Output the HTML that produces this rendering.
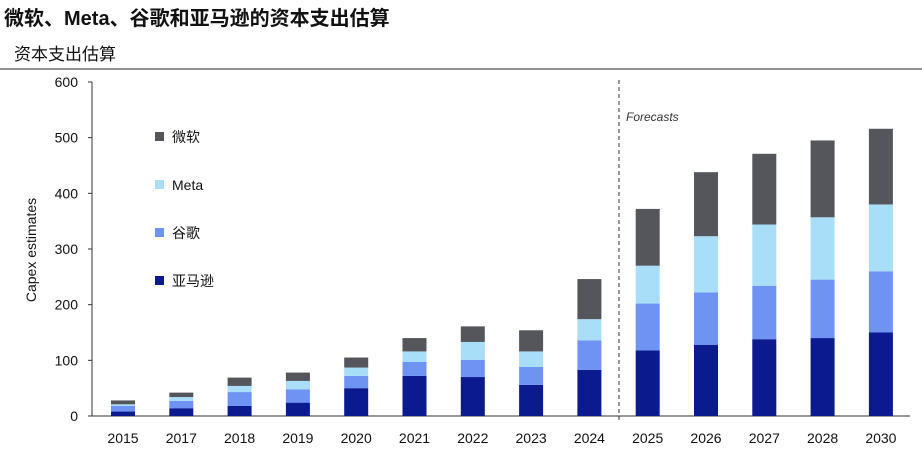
<!DOCTYPE html>
<html><head><meta charset="utf-8"><style>
body{margin:0;background:#fff;width:922px;height:462px;overflow:hidden;font-family:"Liberation Sans","Noto Sans CJK SC",sans-serif}
</style></head><body>
<svg id="c" width="922" height="462" xmlns="http://www.w3.org/2000/svg">
<text x="4" y="25" font-size="20" font-weight="bold" fill="#111" font-family="Liberation Sans, Noto Sans CJK SC, sans-serif">微软、Meta、谷歌和亚马逊的资本支出估算</text>
<text x="14" y="60" font-size="17" fill="#111" font-family="Liberation Sans, Noto Sans CJK SC, sans-serif">资本支出估算</text>
<line x1="0" y1="69" x2="922" y2="69" stroke="#222" stroke-width="1"/>
<text transform="translate(36,250) rotate(-90)" text-anchor="middle" font-size="14" fill="#111">Capex estimates</text>
<g id="axes"></g><g id="bars"></g>
<line x1="619" y1="80" x2="619" y2="420" stroke="#333" stroke-dasharray="4,3"/>
<text x="626" y="121" font-size="12" font-style="italic" fill="#333">Forecasts</text>
<g id="legend"></g>
</svg>
<script>
const categories=["2015","2017","2018","2019","2020","2021","2022","2023","2024","2025","2026","2027","2028","2030"];
const amazon=[8,14,18,24,50,72,70,56,83,118,128,138,140,150];
const google=[10,13,25,24,22,25,31,32,53,84,94,96,105,110];
const meta=[3,7,11,15,15,19,32,28,38,68,101,110,112,120];
const microsoft=[7,8,15,15,18,24,28,38,72,102,115,127,138,136];
const yTicks=[0,100,200,300,400,500,600];
const seriesNames=["微软","Meta","谷歌","亚马逊"];
const NS="http://www.w3.org/2000/svg";
const y0=416,ppu=(416-82)/600;
const y=v=>y0-v*ppu;
const x=i=>123+i*58.3;
const colors={amazon:"#0b1a8e",google:"#6e93f2",meta:"#a9def9",microsoft:"#55565c"};
function mk(t,a,p){const e=document.createElementNS(NS,t);for(const k in a)e.setAttribute(k,a[k]);p.appendChild(e);return e;}
const ax=document.getElementById('axes');
let bl=mk('line',{x1:92,y1:y0,x2:910,y2:y0,stroke:'#333'},ax);


let vl=mk('line',{x1:92,y1:y(600),x2:92,y2:y0,stroke:'#333'},ax);


yTicks.forEach(t=>{const e=mk('text',{x:78,y:y(t)+5,'text-anchor':'end','font-size':14,fill:'#111'},ax);e.textContent=t;


const tk=mk('line',{x1:88,y1:y(t),x2:92,y2:y(t),stroke:'#333'},ax);

});
categories.forEach((c,i)=>{const e=mk('text',{x:x(i),y:443,'text-anchor':'middle','font-size':14,fill:'#111'},ax);e.textContent=c;

});
const bars=document.getElementById('bars');
const order=[["amazon",amazon],["google",google],["meta",meta],["microsoft",microsoft]];
categories.forEach((c,i)=>{let base=0;order.forEach(([n,arr])=>{const v=arr[i];
const r=mk('rect',{x:x(i)-12,y:y(base+v),width:24,height:v*ppu,fill:colors[n]},bars);


base+=v;});});
const lg=document.getElementById('legend');
const lkeys=["microsoft","meta","google","amazon"];
seriesNames.forEach((s,i)=>{const yy=138+i*48;
const r=mk('rect',{x:155,y:yy-6,width:9,height:9,fill:colors[lkeys[i]]},lg);


const t=mk('text',{x:172,y:yy+4,'font-size':14,fill:'#111'},lg);t.textContent=s;

});
</script>
</body></html>
